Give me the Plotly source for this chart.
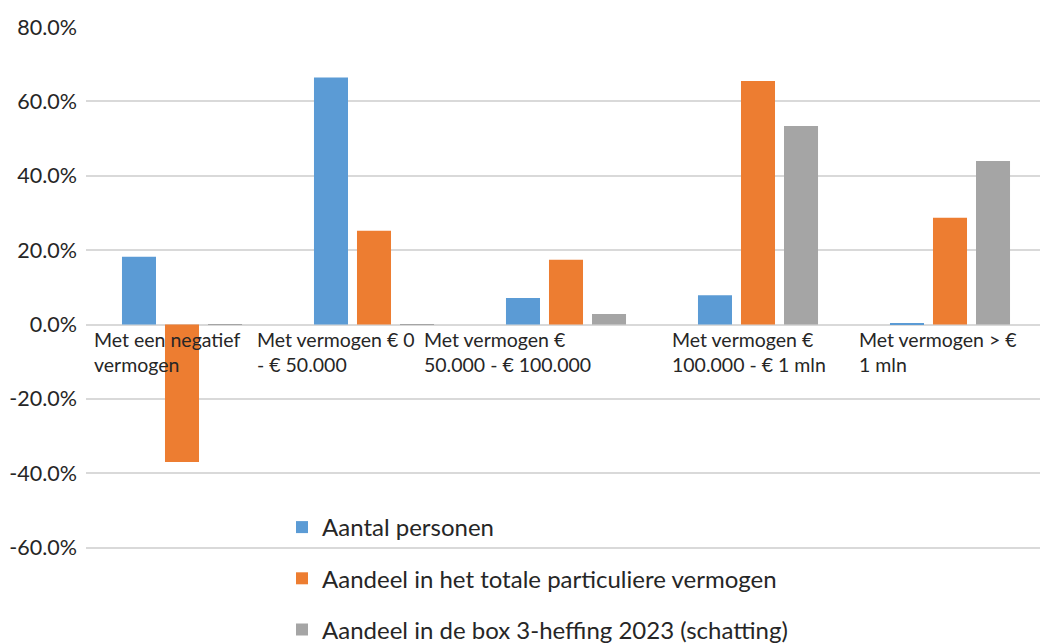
import plotly.graph_objects as go

categories = [
    "Met een negatief vermogen",
    "Met vermogen € 0 - € 50.000",
    "Met vermogen € 50.000 - € 100.000",
    "Met vermogen € 100.000 - € 1 mln",
    "Met vermogen > € 1 mln",
]
category_labels = [
    "Met een negatief<br>vermogen",
    "Met vermogen € 0<br>- € 50.000",
    "Met vermogen €<br>50.000 - € 100.000",
    "Met vermogen €<br>100.000 - € 1 mln",
    "Met vermogen > €<br>1 mln",
]
series_names = [
    "Aantal personen",
    "Aandeel in het totale particuliere vermogen",
    "Aandeel in de box 3-heffing 2023 (schatting)",
]
aantal_personen = [18.2, 66.4, 7.1, 7.9, 0.3]
aandeel_vermogen = [-37.0, 25.2, 17.4, 65.5, 28.7]
aandeel_heffing = [0.1, 0.1, 2.8, 53.4, 44.0]
colors = ["#5b9bd5", "#ed7d31", "#a5a5a5"]
y_ticks = [80, 60, 40, 20, 0, -20, -40, -60]

# the chart is slightly wider than the visible window (right edge cropped)
W, H = 1046, 643
L, R, T, B = 86, 0, 27, 0
FONT = "Lato"

fig = go.Figure()
for i, (name, vals) in enumerate(zip(series_names, [aantal_personen, aandeel_vermogen, aandeel_heffing])):
    fig.add_trace(go.Bar(
        x=categories, y=vals, name=name,
        marker=dict(color=colors[i], line=dict(width=0)),
        legendgroup=f"g{i}",
        hoverinfo="x+y+name",
    ))

# label left edges in page pixels
label_px = [95, 258, 425, 673, 860]
pw = W - L - R
ph = H - T - B
for lab, px in zip(category_labels, label_px):
    fig.add_annotation(
        x=(px - 3 - L) / pw, xref="paper", xanchor="left",
        y=0, yref="y", yanchor="top", yshift=-1.5,
        text=lab, showarrow=False, align="left",
        font=dict(family=FONT, size=19.5, color="#262626"),
    )

legend_top_page = 505
fig.update_layout(
    width=W, height=H, autosize=False,
    margin=dict(l=L, r=R, t=T, b=B, pad=0, autoexpand=False),
    paper_bgcolor="white", plot_bgcolor="white",
    barmode="group", bargap=0.328, bargroupgap=0.209,
    font=dict(family=FONT, size=20, color="#262626"),
    showlegend=True,
    legend=dict(
        x=(282 - L) / pw, xanchor="left",
        y=(H - legend_top_page - B) / ph, yanchor="top",
        font=dict(family=FONT, size=24, color="#262626"),
        bgcolor="rgba(0,0,0,0)",
        tracegroupgap=17,
        itemclick=False, itemdoubleclick=False,
    ),
    xaxis=dict(showticklabels=False, showgrid=False, zeroline=False,
               showline=False, ticks="", range=[-0.5, 4.5], automargin=False),
    yaxis=dict(
        range=[-85.64, 80], tickvals=y_ticks,
        ticktext=[f"{v:.1f}%" for v in y_ticks],
        showgrid=True, gridcolor="#d9d9d9", gridwidth=1.5,
        zeroline=True, zerolinecolor="#d9d9d9", zerolinewidth=1.5,
        showline=False, ticks="", ticklabelstandoff=8, automargin=False,
        tickfont=dict(family=FONT, size=21.5, color="#262626"),
    ),
)

fig.write_html(
    "out.html",
    config={"responsive": False, "displayModeBar": False},
    post_script="document.body.style.margin='0';document.body.style.overflow='hidden';",
)
